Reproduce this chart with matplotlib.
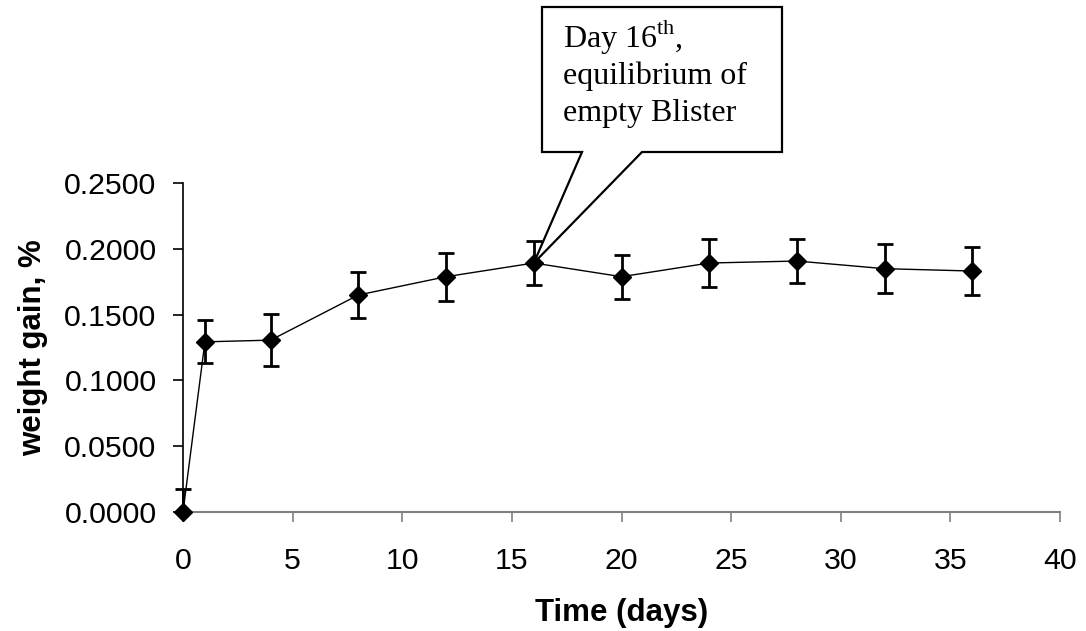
import matplotlib
matplotlib.use("Agg")
import matplotlib.pyplot as plt
from matplotlib.patches import Polygon, Rectangle
from matplotlib.ticker import FuncFormatter, MultipleLocator

# Storage time (days) and mean weight gain (%) with standard deviations
days = [0, 1, 4, 8, 12, 16, 20, 24, 28, 32, 36]
weight_gain = [0.0000, 0.1293, 0.1306, 0.1649, 0.1788, 0.1892, 0.1788,
               0.1892, 0.1907, 0.1849, 0.1831]
std_dev = [0.0177, 0.0164, 0.0198, 0.0175, 0.0182, 0.0165, 0.0166,
           0.0180, 0.0166, 0.0186, 0.0180]

callout_day = 16
callout_lines = [r"Day 16$^{\mathrm{th}}$,", "equilibrium of", "empty Blister"]

plt.rcParams["mathtext.fontset"] = "custom"
plt.rcParams["mathtext.rm"] = "Liberation Serif"
plt.rcParams["font.family"] = ["Liberation Sans", "DejaVu Sans"]

W, H = 1086, 631
fig = plt.figure(figsize=(W / 100, H / 100), dpi=100)
ax = fig.add_axes([183 / W, 1 - 512 / H, (1060 - 183) / W, (512 - 183) / H])

# Connecting line with diamond markers
ax.plot(days, weight_gain, color="black", lw=1.0, marker="D", ms=9,
        mfc="black", mec="black", clip_on=False, zorder=4)

# Error bars, clipped at the x axis
eb = ax.errorbar(days, weight_gain, yerr=std_dev, fmt="none", ecolor="black",
                 elinewidth=2.0, capsize=6, capthick=2.0, zorder=3)
clip_rect = Rectangle((-0.05, 0.0), 1.1, 1.2, transform=ax.transAxes,
                      facecolor="none", edgecolor="none")
for artist in list(eb.lines[1]) + list(eb.lines[2]):
    artist.set_clip_path(clip_rect)

ax.set_xlim(0, 40)
ax.set_ylim(0, 0.25)
ax.xaxis.set_major_locator(MultipleLocator(5))
ax.yaxis.set_major_locator(MultipleLocator(0.05))
ax.yaxis.set_major_formatter(FuncFormatter(lambda v, p: f"{v:.4f}"))

for side in ("top", "right"):
    ax.spines[side].set_visible(False)
ax.spines["left"].set_color("black")
ax.spines["left"].set_linewidth(1.2)
ax.spines["bottom"].set_color("#808080")
ax.spines["bottom"].set_linewidth(1.5)

ax.tick_params(axis="x", direction="out", length=7, width=1.2, color="#808080",
               labelsize=21.8, pad=18)
ax.tick_params(axis="y", direction="out", length=7, width=1.2, color="black",
               labelsize=21.8, pad=12)

ax.set_xlabel("Time (days)", fontsize=22.5, fontweight="bold", labelpad=17)
ax.set_ylabel("weight gain, %", fontsize=22.5, fontweight="bold", labelpad=12)

# Speech-bubble callout pointing at the equilibrium day
fig.canvas.draw()
idx = days.index(callout_day)
tip_disp = ax.transData.transform((days[idx], weight_gain[idx]))
tip = fig.transFigure.inverted().transform(tip_disp)
L, R = 542 / W, 782 / W
T, B = 1 - 7 / H, 1 - 152 / H
P1, P2 = 582 / W, 642 / W
bubble = Polygon([(L, T), (R, T), (R, B), (P2, B), tuple(tip), (P1, B), (L, B)],
                 closed=True, transform=fig.transFigure, facecolor="white",
                 edgecolor="black", lw=1.6, zorder=10, clip_on=False)
fig.add_artist(bubble)

for i, line in enumerate(callout_lines):
    fig.text(563 / W, 1 - (46.7 + 37 * i) / H, line, fontsize=23,
             family="Liberation Serif", va="baseline", ha="left", zorder=11)

fig.savefig("out.png", dpi=100)
